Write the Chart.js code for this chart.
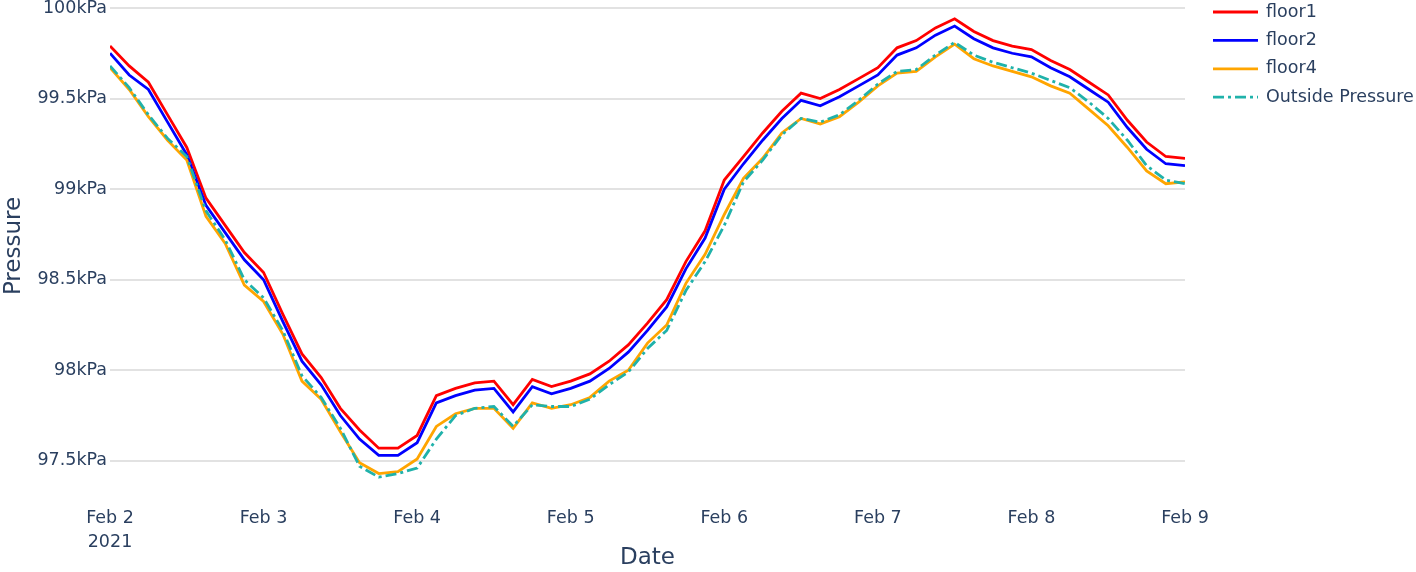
<!DOCTYPE html>
<html>
<head>
<meta charset="utf-8">
<script src="https://cdn.jsdelivr.net/npm/chart.js@4/dist/chart.umd.min.js"></script>
<style>
  html, body { margin: 0; padding: 0; background: #fff; }
  #wrap { width: 1416px; height: 572px; position: relative; }
</style>
</head>
<body>
<div id="wrap"><canvas id="pressure"></canvas></div>
<script>
// hours since Feb 2 2021 00:00, one reading every 3 hours
const hours = [0, 3, 6, 9, 12, 15, 18, 21, 24, 27, 30, 33, 36, 39, 42, 45, 48, 51, 54, 57,
  60, 63, 66, 69, 72, 75, 78, 81, 84, 87, 90, 93, 96, 99, 102, 105, 108, 111, 114, 117,
  120, 123, 126, 129, 132, 135, 138, 141, 144, 147, 150, 153, 156, 159, 162, 165, 168];

// pressure in kPa
const floor1 = [99.79, 99.68, 99.59, 99.41, 99.23, 98.95, 98.80, 98.65, 98.54, 98.31,
  98.09, 97.96, 97.79, 97.67, 97.57, 97.57, 97.64, 97.86, 97.90, 97.93,
  97.94, 97.81, 97.95, 97.91, 97.94, 97.98, 98.05, 98.14, 98.26, 98.39,
  98.60, 98.77, 99.05, 99.18, 99.31, 99.43, 99.53, 99.50, 99.55, 99.61,
  99.67, 99.78, 99.82, 99.89, 99.94, 99.87, 99.82, 99.79, 99.77, 99.71,
  99.66, 99.59, 99.52, 99.38, 99.26, 99.18, 99.17];
const floor2 = [99.75, 99.63, 99.55, 99.37, 99.19, 98.91, 98.76, 98.61, 98.50, 98.27,
  98.05, 97.92, 97.75, 97.62, 97.53, 97.53, 97.60, 97.82, 97.86, 97.89,
  97.90, 97.77, 97.91, 97.87, 97.90, 97.94, 98.01, 98.10, 98.22, 98.35,
  98.56, 98.73, 99.00, 99.14, 99.27, 99.39, 99.49, 99.46, 99.51, 99.57,
  99.63, 99.74, 99.78, 99.85, 99.90, 99.83, 99.78, 99.75, 99.73, 99.67,
  99.62, 99.55, 99.48, 99.34, 99.22, 99.14, 99.13];
const floor4 = [99.67, 99.55, 99.40, 99.27, 99.16, 98.85, 98.70, 98.47, 98.38, 98.20,
  97.94, 97.84, 97.66, 97.49, 97.43, 97.44, 97.51, 97.69, 97.76, 97.79,
  97.79, 97.68, 97.82, 97.79, 97.81, 97.85, 97.94, 98.00, 98.15, 98.25,
  98.48, 98.64, 98.86, 99.06, 99.17, 99.31, 99.39, 99.36, 99.40, 99.48,
  99.57, 99.64, 99.65, 99.73, 99.80, 99.72, 99.68, 99.65, 99.62, 99.57,
  99.53, 99.44, 99.35, 99.23, 99.10, 99.03, 99.04];
const outside = [99.68, 99.56, 99.41, 99.28, 99.18, 98.88, 98.72, 98.50, 98.40, 98.22,
  97.97, 97.85, 97.68, 97.47, 97.41, 97.43, 97.46, 97.62, 97.75, 97.79,
  97.80, 97.69, 97.81, 97.80, 97.80, 97.84, 97.92, 97.99, 98.12, 98.22,
  98.44, 98.60, 98.80, 99.04, 99.16, 99.30, 99.39, 99.37, 99.41, 99.49,
  99.58, 99.65, 99.66, 99.74, 99.81, 99.74, 99.70, 99.67, 99.64, 99.60,
  99.56, 99.48, 99.39, 99.27, 99.13, 99.05, 99.03];

const dayTicks = [0, 24, 48, 72, 96, 120, 144, 168];
const dayLabels = [['Feb 2', '2021'], 'Feb 3', 'Feb 4', 'Feb 5', 'Feb 6', 'Feb 7', 'Feb 8', 'Feb 9'];
const kpaTicks = [97.5, 98, 98.5, 99, 99.5, 100];

const seriesNames = ['floor1', 'floor2', 'floor4', 'Outside Pressure'];
const seriesColors = ['#ff0000', '#0000ff', '#ffa500', '#20b2aa'];

const FONT = 'DejaVu Sans';
const TEXT = '#2a3f5f';

const pts = ys => hours.map((h, i) => ({ x: h, y: ys[i] }));

// legend drawn by hand so it sits where plotly puts it
const sideLegend = {
  id: 'sideLegend',
  afterDraw(chart) {
    const ctx = chart.ctx;
    ctx.save();
    ctx.font = '17.5px ' + FONT;
    ctx.textBaseline = 'middle';
    chart.data.datasets.forEach((ds, i) => {
      const y = 12 + i * 28.4;
      ctx.strokeStyle = ds.borderColor;
      ctx.lineWidth = ds.borderWidth;
      ctx.setLineDash(ds.borderDash || []);
      ctx.beginPath();
      ctx.moveTo(1213, y);
      ctx.lineTo(1258, y);
      ctx.stroke();
      ctx.setLineDash([]);
      ctx.fillStyle = TEXT;
      ctx.fillText(ds.label, 1266, y);
    });
    ctx.restore();
  }
};

const datasets = [floor1, floor2, floor4, outside].map((ys, i) => ({
  label: seriesNames[i],
  data: pts(ys),
  borderColor: seriesColors[i],
  backgroundColor: seriesColors[i],
  borderWidth: 2.8,
  borderDash: i === 3 ? [11, 4, 3, 4] : [],
  pointRadius: 0,
  tension: 0,
  fill: false,
  order: 3 - i
}));

new Chart(document.getElementById('pressure'), {
  type: 'line',
  data: { datasets },
  options: {
    responsive: true,
    maintainAspectRatio: false,
    animation: false,
    layout: { padding: { top: 0, right: 231, left: 0, bottom: 0 } },
    plugins: { legend: { display: false }, tooltip: { enabled: false } },
    scales: {
      x: {
        type: 'linear',
        min: 0,
        max: 168,
        grid: { display: false, drawTicks: false },
        border: { display: false },
        afterBuildTicks: s => { s.ticks = dayTicks.map(v => ({ value: v })); },
        afterFit: s => { s.height = 80; },
        ticks: {
          padding: 14,
          maxRotation: 0,
          autoSkip: false,
          color: TEXT,
          font: { family: FONT, size: 17.5, lineHeight: 1.4 },
          callback: v => dayLabels[dayTicks.indexOf(v)]
        },
        title: {
          display: true,
          text: 'Date',
          color: TEXT,
          font: { family: FONT, size: 23 },
          padding: { top: 0, bottom: 0 }
        }
      },
      y: {
        min: 97.328,
        max: 100.044,
        grid: { color: '#e2e2e2', lineWidth: 2, drawTicks: false },
        border: { display: false },
        afterBuildTicks: s => { s.ticks = kpaTicks.map(v => ({ value: v })); },
        afterFit: s => { s.width = 110; s.paddingTop = 0; s.paddingBottom = 0; },
        ticks: {
          padding: 3,
          color: TEXT,
          font: { family: FONT, size: 17.5 },
          callback: v => v + 'kPa'
        },
        title: {
          display: true,
          text: 'Pressure',
          color: TEXT,
          font: { family: FONT, size: 23 },
          padding: { top: 0, bottom: 0 }
        }
      }
    }
  },
  plugins: [sideLegend]
});
</script>
</body>
</html>
